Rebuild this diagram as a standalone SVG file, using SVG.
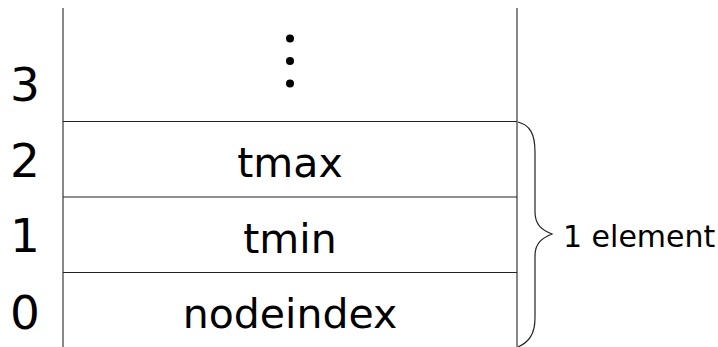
<svg xmlns="http://www.w3.org/2000/svg" width="718" height="347" viewBox="0 0 718 347">
  <style>
    .wall { stroke: #555; stroke-width: 1.4; fill: none; }
    .sep { stroke: #222; stroke-width: 1.2; fill: none; }
    .idx { font-family: "DejaVu Sans", sans-serif; font-size: 47px; fill: #000; text-anchor: middle; }
    .cell { font-family: "DejaVu Sans", sans-serif; font-size: 41px; fill: #000; text-anchor: middle; }
    .note { font-family: "DejaVu Sans", sans-serif; font-size: 30px; fill: #000; }
  </style>
  <rect width="718" height="347" fill="#fff"/>

  <!-- array column walls and row separators -->
  <g id="connectors">
    <line class="wall" x1="63" y1="8" x2="63" y2="347"/>
    <line class="wall" x1="517" y1="8" x2="517" y2="347"/>
    <line class="sep" x1="63" y1="121.5" x2="517" y2="121.5"/>
    <line class="sep" x1="63" y1="197" x2="517" y2="197"/>
    <line class="sep" x1="63" y1="272.5" x2="517" y2="272.5"/>
    <!-- brace grouping rows 0..2 -->
    <path class="sep" d="M518,122 C530,125 535,134 535,152 L535,212 C535,225 542,230 552,234 C542,238 535,243 535,256 L535,318 C535,334 529,342 518,347"/>
  </g>

  <g id="row3">
    <text class="idx" x="25" y="101">3</text>
    <circle cx="290" cy="38.5" r="4"/>
    <circle cx="290" cy="61" r="4"/>
    <circle cx="290" cy="83.5" r="4"/>
  </g>
  <g id="row2">
    <text class="idx" x="25" y="177">2</text>
    <text class="cell" x="290" y="177">tmax</text>
  </g>
  <g id="row1">
    <text class="idx" x="25" y="252">1</text>
    <text class="cell" x="290" y="253">tmin</text>
  </g>
  <g id="row0">
    <text class="idx" x="25" y="329">0</text>
    <text class="cell" x="290" y="328">nodeindex</text>
  </g>
  <g id="element-label">
    <text class="note" x="563" y="247">1 element</text>
  </g>
</svg>
